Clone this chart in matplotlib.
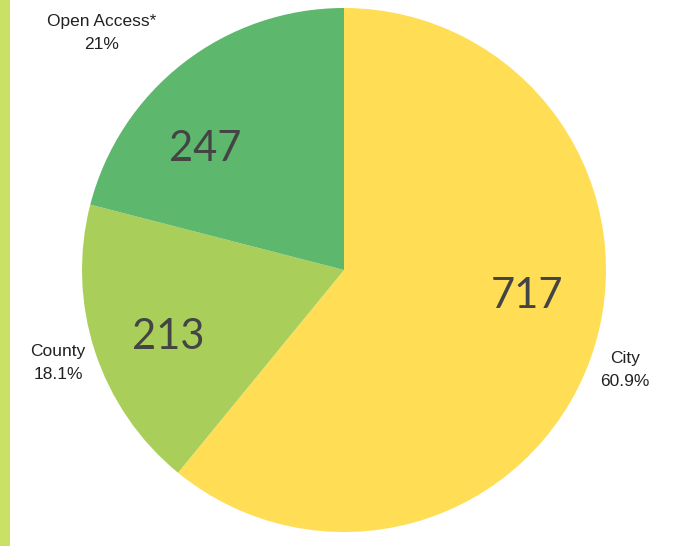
import matplotlib.pyplot as plt
from matplotlib.patches import Rectangle

categories = ["City", "County", "Open Access*"]
counts = [717, 213, 247]
pct_labels = ["60.9%", "18.1%", "21%"]
colors = ["#FFDD55", "#A9CF5A", "#5DB86E"]

# label layout (pixel coords, y measured from top)
value_pos = [(527, 296), (168, 337), (205, 149)]
name_pos = [(625, 370), (58, 363), (102, 33)]

W, H = 676, 546
fig = plt.figure(figsize=(W / 100, H / 100), dpi=100)
ax = fig.add_axes([0, 0, 1, 1])

# left accent bar
ax.add_patch(Rectangle((0, 0), 10, H, color="#C9E265", lw=0))

ax.pie(counts, colors=colors, startangle=90, counterclock=False,
       center=(344, H - 270), radius=262, frame=True,
       wedgeprops=dict(linewidth=0))
ax.set_xlim(0, W)
ax.set_ylim(0, H)
ax.set_aspect("equal")
ax.axis("off")

for v, (x, y) in zip(counts, value_pos):
    ax.text(x, H - y, str(v), ha="center", va="center", fontsize=30,
            color="#444444", family="Lato")

for name, p, (x, y) in zip(categories, pct_labels, name_pos):
    ax.text(x, H - y, name + "\n" + p, ha="center", va="center",
            fontsize=12.5, color="#222222", family="Liberation Sans",
            linespacing=1.65)

fig.savefig("out.png", dpi=100)
